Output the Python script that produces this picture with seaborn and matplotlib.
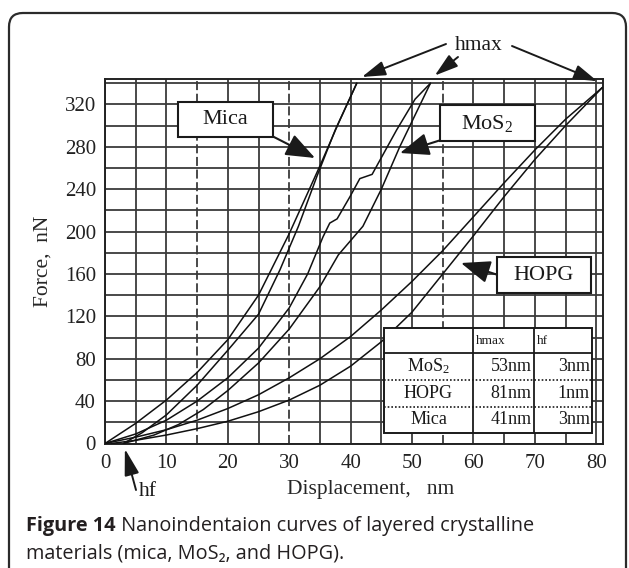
import numpy as np
import pandas as pd
import matplotlib
matplotlib.use("Agg")
import matplotlib.pyplot as plt
from matplotlib.patches import FancyBboxPatch, Rectangle
from matplotlib.lines import Line2D
import seaborn as sns

# ---- nanoindentation data (displacement in nm, force in nN) ----
materials = ["Mica", "MoS2", "HOPG"]
hmax_nm = [41, 53, 81]          # maximum penetration depth
hf_nm = [3, 3, 1]               # residual depth after unloading
pmax_nN = [340, 340, 336]       # peak load

mica_load_disp = [0, 5, 10, 15, 20, 25, 30, 35, 38]
mica_load_force = [0, 19, 41, 67, 98, 140, 198, 262, 302]
mica_unload_disp = [6, 10, 15, 20, 25, 28.5, 31.5, 34.5, 37.5]
mica_unload_force = [10, 27, 55, 88, 122, 164, 205, 252, 296]

mos2_load_disp = [0, 5, 10, 15, 20, 25, 30, 33, 35.5, 36.6, 37.8, 39.9, 41.5, 43.5, 45.5, 47.5, 50.5]
mos2_load_force = [0, 9, 22, 40, 62, 90, 128, 160, 195, 208, 212, 233, 250, 254, 275, 296, 325]
mos2_unload_disp = [8, 12, 16, 20, 25, 30, 35, 38, 42, 45, 48, 50.5]
mos2_unload_force = [8, 18, 32, 50, 76, 108, 148, 178, 205, 240, 280, 310]

hopg_load_disp = [0, 5, 10, 15, 20, 25, 30, 35, 40, 45, 50, 55, 60, 65, 70, 75]
hopg_load_force = [0, 6, 13, 22, 33, 46, 62, 80, 101, 126, 153, 182, 214, 246, 277, 306]
hopg_unload_disp = [5, 10, 15, 20, 25, 30, 35, 40, 45, 50, 55, 60, 65, 70, 75]
hopg_unload_force = [3, 8, 14, 21, 30, 41, 55, 73, 96, 124, 160, 196, 233, 268, 300]

table_rows = ["MoS$_2$", "HOPG", "Mica"]
table_hmax = [53, 81, 41]
table_hf = [3, 1, 3]

x_ticks = [0, 10, 20, 30, 40, 50, 60, 70, 80]
y_ticks = [0, 40, 80, 120, 160, 200, 240, 280, 320]

# ---- assemble curves: loading ends at (hmax, Pmax), unloading runs (hmax, Pmax) -> (hf, 0)
load_d = [mica_load_disp, mos2_load_disp, hopg_load_disp]
load_f = [mica_load_force, mos2_load_force, hopg_load_force]
unl_d = [mica_unload_disp, mos2_unload_disp, hopg_unload_disp]
unl_f = [mica_unload_force, mos2_unload_force, hopg_unload_force]

frames = []
for i, m in enumerate(materials):
    d = list(load_d[i]) + [hmax_nm[i]]
    f = list(load_f[i]) + [pmax_nN[i]]
    frames.append(pd.DataFrame({"disp": d, "force": f, "curve": f"{m} loading"}))
    d = [hmax_nm[i]] + list(unl_d[i])[::-1] + [hf_nm[i]]
    f = [pmax_nN[i]] + list(unl_f[i])[::-1] + [0]
    frames.append(pd.DataFrame({"disp": d, "force": f, "curve": f"{m} unloading"}))
df = pd.concat(frames, ignore_index=True)

# ---- style ----
sns.set_style("white")
plt.rcParams["font.family"] = ["Liberation Serif", "DejaVu Serif"]
plt.rcParams["mathtext.fontset"] = "custom"
plt.rcParams["mathtext.rm"] = "Liberation Serif"
plt.rcParams["mathtext.it"] = "Liberation Serif:italic"
plt.rcParams["text.color"] = "#1a1a1a"

W, H = 629, 568
fig = plt.figure(figsize=(W / 100, H / 100), dpi=100)
fig.patch.set_facecolor("white")


def fx(x):
    return x / W


def fy(y):
    return 1 - y / H


ax = fig.add_axes([fx(105), fy(443.5), (603 - 105) / W, (443.5 - 79) / H])
ax.set_xlim(0, 81.1)
ax.set_ylim(0, 344)

grid_col = "#3a3a3a"
for gx in range(0, 81, 5):
    ls = (0, (5, 2)) if gx in (15, 30, 55) else "-"
    ax.axvline(gx, color=grid_col, lw=1.3, ls=ls, zorder=0)
for gy in range(0, 341, 20):
    ax.axhline(gy, color=grid_col, lw=1.3, zorder=0)

sns.lineplot(data=df, x="disp", y="force", units="curve", estimator=None,
             sort=False, color="#111111", lw=1.1, ax=ax, zorder=3)

for s in ax.spines.values():
    s.set_visible(True)
    s.set_color("#222222")
    s.set_linewidth(1.4)

ax.set_xticks(x_ticks)
ax.set_xticks(np.arange(5, 81, 10), minor=True)
ax.set_yticks(y_ticks)
ax.set_yticks(np.arange(0, 344, 4), minor=True)
ax.tick_params(which="major", direction="inout", length=7, width=1.1,
               labelsize=15, colors="#222222", pad=3)
ax.tick_params(which="minor", direction="inout", length=5, width=0.8, colors="#222222")
ax.tick_params(axis="x", which="major", pad=4)
ax.tick_params(axis="y", which="minor", length=4)

ax.set_xlabel("Displacement,   nm", fontsize=15.5)
ax.set_ylabel("Force,  nN", fontsize=15.5)
ax.xaxis.set_label_coords((371 - 105) / 498, (443.5 - 480) / 364.5)
ax.yaxis.set_label_coords((53 - 105) / 498, 0.5)

# ---- labelled boxes with arrows ----
def label_box(x0, y0, x1, y1, text, size=16):
    fig.add_artist(Rectangle((fx(x0), fy(y1)), (x1 - x0) / W, (y1 - y0) / H,
                             transform=fig.transFigure, fc="white", ec="#1a1a1a",
                             lw=1.5, zorder=5))
    fig.text(fx((x0 + x1) / 2), fy((y0 + y1) / 2), text, ha="center", va="center",
             fontsize=size, zorder=6)


def fig_arrow(x0, y0, x1, y1, hl=0.9, hw=0.35, ms=20, lw=1.5):
    ax.annotate("", xy=(x1, H - y1), xycoords="figure pixels",
                xytext=(x0, H - y0), textcoords="figure pixels",
                arrowprops=dict(arrowstyle=f"-|>,head_length={hl},head_width={hw}",
                                lw=lw, color="#1a1a1a", shrinkA=0, shrinkB=0,
                                mutation_scale=ms),
                annotation_clip=False, zorder=6)


label_box(178, 102, 273, 137, "Mica")
fig_arrow(272, 136, 315, 158)
label_box(440, 105, 535, 141, "MoS$_2$")
fig_arrow(441, 140, 400, 153)
label_box(497, 257, 591, 293, "HOPG")
fig_arrow(498, 275, 461, 263)

# ---- hmax pointers ----
fig.text(fx(479), fy(45), "hmax", ha="center", va="center", fontsize=15.5)
hmax_tails = [(446, 44), (458, 57), (512, 46)]
for i in range(3):
    ax.annotate("", xy=(hmax_nm[i], pmax_nN[i] + 4), xycoords="data",
                xytext=(hmax_tails[i][0], H - hmax_tails[i][1]), textcoords="figure pixels",
                arrowprops=dict(arrowstyle="-|>,head_length=0.8,head_width=0.25",
                                lw=1.4, color="#1a1a1a", shrinkA=0, shrinkB=4,
                                mutation_scale=18),
                annotation_clip=False, zorder=6)

# ---- hf pointer ----
ax.annotate("", xy=(hf_nm[0], 0), xycoords="data",
            xytext=(136, H - 490), textcoords="figure pixels",
            arrowprops=dict(arrowstyle="-|>,head_length=0.9,head_width=0.25",
                            lw=1.4, color="#1a1a1a", shrinkA=0, shrinkB=4,
                            mutation_scale=18),
            annotation_clip=False, zorder=6)
fig.text(fx(139), fy(491), "hf", ha="left", va="center", fontsize=15.5)

# ---- summary table ----
tx0, tx1, tx2, tx3 = 384, 473, 533.5, 592
ty = [328, 353, 380, 406.7, 433.3]
fig.add_artist(Rectangle((fx(tx0), fy(ty[-1])), (tx3 - tx0) / W, (ty[-1] - ty[0]) / H,
                         transform=fig.transFigure, fc="white", ec="#1a1a1a",
                         lw=1.4, zorder=5))
for xv in (tx1, tx2):
    fig.add_artist(Line2D([fx(xv), fx(xv)], [fy(ty[0]), fy(ty[-1])],
                          transform=fig.transFigure, color="#1a1a1a", lw=1.3, zorder=6))
fig.add_artist(Line2D([fx(tx0), fx(tx3)], [fy(ty[1]), fy(ty[1])],
                      transform=fig.transFigure, color="#1a1a1a", lw=1.3, zorder=6))
for yv in ty[2:4]:
    fig.add_artist(Line2D([fx(tx0), fx(tx3)], [fy(yv), fy(yv)],
                          transform=fig.transFigure, color="#1a1a1a", lw=1.2,
                          ls=(0, (1, 1.2)), zorder=6))
fig.text(fx(tx1 + 3), fy((ty[0] + ty[1]) / 2), "hmax", ha="left", va="center",
         fontsize=9.5, zorder=7)
fig.text(fx(tx2 + 3), fy((ty[0] + ty[1]) / 2), "hf", ha="left", va="center",
         fontsize=9.5, zorder=7)
for r in range(3):
    yc = fy((ty[r + 1] + ty[r + 2]) / 2)
    fig.text(fx((tx0 + tx1) / 2), yc, table_rows[r], ha="center", va="center",
             fontsize=13, zorder=7)
    fig.text(fx(tx2 - 2), yc, f"{table_hmax[r]}nm", ha="right", va="center",
             fontsize=13, zorder=7)
    fig.text(fx(tx3 - 2), yc, f"{table_hf[r]}nm", ha="right", va="center",
             fontsize=13, zorder=7)

# ---- outer frame and caption ----
fig.add_artist(FancyBboxPatch((fx(9), fy(620)), (626 - 9) / W, (620 - 13) / H,
                              boxstyle="round,pad=0,rounding_size=0.022",
                              transform=fig.transFigure, fc="none", ec="#2b2b2b",
                              lw=1.6, zorder=1, mutation_aspect=W / H))

cap_font = ["Open Sans", "DejaVu Sans"]
cap_col = "#231f20"
cap_size = 14.3
fig.canvas.draw()
renderer = fig.canvas.get_renderer()
t1 = fig.text(fx(26), fy(526), "Figure 14", ha="left", va="center", fontsize=cap_size,
              fontweight="bold", family=cap_font, color=cap_col)
bb = t1.get_window_extent(renderer=renderer)
fig.text(bb.x1 / W, fy(526), " Nanoindentaion curves of layered crystalline",
         ha="left", va="center", fontsize=cap_size, family=cap_font, color=cap_col)
fig.text(fx(26), fy(553), "materials (mica, MoS\u2082, and HOPG).", ha="left",
         va="center", fontsize=cap_size, family=cap_font, color=cap_col)

fig.savefig("out.png", dpi=100)
